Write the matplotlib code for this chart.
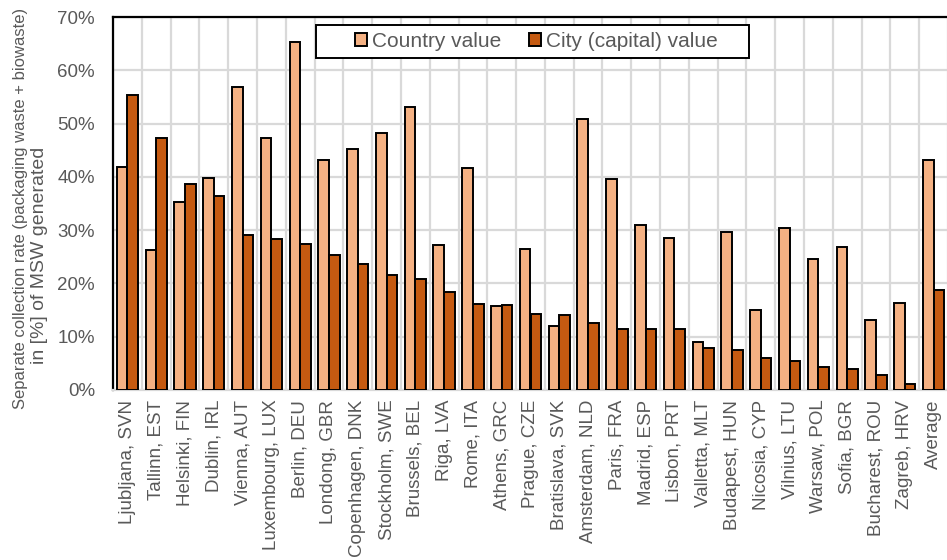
import matplotlib.pyplot as plt
import numpy as np
from matplotlib.patches import Rectangle
from matplotlib.ticker import FixedLocator, PercentFormatter

plt.rcParams['font.family'] = ['Liberation Sans', 'DejaVu Sans']

# separate collection rates, % of MSW generated
cities = ["Ljubljana, SVN", "Tallinn, EST", "Helsinki, FIN", "Dublin, IRL",
          "Vienna, AUT", "Luxembourg, LUX", "Berlin, DEU", "Londong, GBR",
          "Copenhagen, DNK", "Stockholm, SWE", "Brussels, BEL", "Riga, LVA",
          "Rome, ITA", "Athens, GRC", "Prague, CZE", "Bratislava, SVK",
          "Amsterdam, NLD", "Paris, FRA", "Madrid, ESP", "Lisbon, PRT",
          "Valletta, MLT", "Budapest, HUN", "Nicosia, CYP", "Vilnius, LTU",
          "Warsaw, POL", "Sofia, BGR", "Bucharest, ROU", "Zagreb, HRV",
          "Average"]
country_value = [41.8, 26.3, 35.2, 39.7, 56.9, 47.2, 65.4, 43.1,
                 45.3, 48.3, 53.2, 27.2, 41.7, 15.7, 26.5, 12.0,
                 50.8, 39.6, 31.0, 28.6, 9.0, 29.7, 15.1, 30.4,
                 24.6, 26.9, 13.1, 16.4, 43.1]
city_value = [55.3, 47.2, 38.6, 36.5, 29.1, 28.4, 27.4, 25.3,
              23.6, 21.5, 20.8, 18.3, 16.2, 16.0, 14.3, 14.1,
              12.5, 11.5, 11.5, 11.5, 7.9, 7.5, 6.0, 5.4,
              4.4, 3.9, 2.9, 1.1, 18.8]

text_col = '#595959'
grid_col = '#d9d9d9'

fig = plt.figure(figsize=(9.47, 5.6), dpi=100)
# plot area runs a pixel past the right edge of the figure
ax = fig.add_axes([113 / 947, 170 / 560, 835 / 947, 373 / 560])

x = np.arange(len(cities))
w = 0.37
ax.bar(x - w / 2, country_value, w, color='#F4B183', edgecolor='black',
       linewidth=1.4, label='Country value', zorder=3)
ax.bar(x + w / 2, city_value, w, color='#C55A11', edgecolor='black',
       linewidth=1.4, label='City (capital) value', zorder=3)

ax.set_xlim(-0.5, len(cities) - 0.5)
ax.set_ylim(0, 70)
ax.set_yticks(np.arange(0, 71, 10))
ax.yaxis.set_major_formatter(PercentFormatter(decimals=0))
ax.set_xticks(x)
ax.set_xticklabels(cities, rotation=90, va='top', ha='center')
ax.xaxis.set_minor_locator(FixedLocator(np.arange(-0.5, len(cities), 1)))
ax.tick_params(axis='both', which='both', length=0, labelsize=13.5,
               labelcolor=text_col)
ax.tick_params(axis='x', pad=7)
ax.tick_params(axis='y', pad=13)

ax.grid(axis='y', which='major', color=grid_col, linewidth=1.6, zorder=0)
ax.grid(axis='x', which='minor', color=grid_col, linewidth=1.6, zorder=0)
ax.grid(axis='x', which='major', visible=False)

for side in ['top', 'left']:
    ax.spines[side].set_color('black')
    ax.spines[side].set_linewidth(1.6)
ax.spines['bottom'].set_color(grid_col)
ax.spines['bottom'].set_linewidth(1.6)
ax.spines['right'].set_visible(False)

# legend box drawn separately so it can be wider than its entries
ax.add_patch(Rectangle((0.243, 0.890), 0.519, 0.089, transform=ax.transAxes,
                       facecolor='white', edgecolor='black', linewidth=1.4,
                       zorder=4))
leg = ax.legend(loc='center', bbox_to_anchor=(0.507, 0.935), ncol=2,
                frameon=False, fontsize=15, handlelength=0.6,
                handleheight=0.6, handletextpad=0.25, columnspacing=1.3,
                labelcolor=text_col)
leg.set_zorder(5)

fig.text(21 / 947, 1 - 208 / 560,
         'Separate collection rate (packaging waste + biowaste)',
         rotation=90, ha='center', va='center', fontsize=12, color=text_col)
fig.text(40 / 947, 1 - 255 / 560, 'in [%] of MSW generated',
         rotation=90, ha='center', va='center', fontsize=14, color=text_col)

fig.savefig('out.png', dpi=100)
